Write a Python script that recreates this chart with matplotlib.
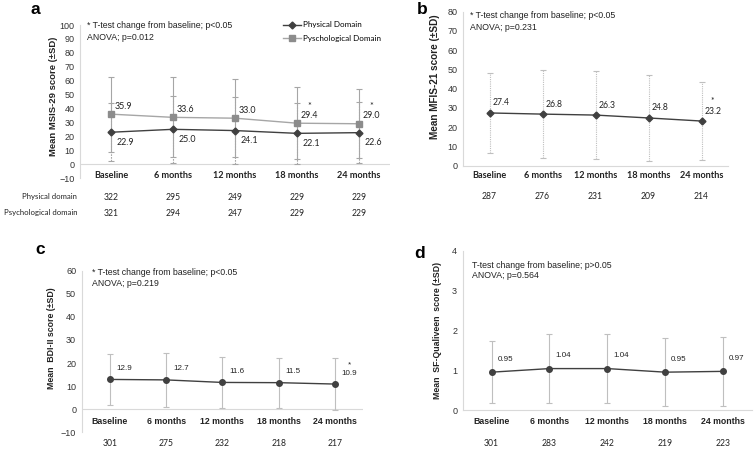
import matplotlib
matplotlib.use("Agg")
import matplotlib.pyplot as plt
import numpy as np

# ---------------- data ----------------
categories = ["Baseline", "6 months", "12 months", "18 months", "24 months"]

# panel a: MSIS-29
a_phys = [22.9, 25.0, 24.1, 22.1, 22.6]
a_phys_sd = [21.0, 24.0, 24.0, 22.0, 22.0]
a_psych = [35.9, 33.6, 33.0, 29.4, 29.0]
a_psych_sd = [27.0, 28.8, 28.0, 25.8, 24.7]
a_n_phys = [322, 295, 249, 229, 229]
a_n_psych = [321, 294, 247, 229, 229]
a_sig = [False, False, False, True, True]

# panel b: MFIS-21
b_vals = [27.4, 26.8, 26.3, 24.8, 23.2]
b_sd = [21.0, 22.7, 22.9, 22.4, 20.3]
b_n = [287, 276, 231, 209, 214]
b_sig = [False, False, False, False, True]

# panel c: BDI-II
c_vals = [12.9, 12.7, 11.6, 11.5, 10.9]
c_sd = [10.9, 11.8, 11.1, 10.9, 11.2]
c_n = [301, 275, 232, 218, 217]
c_sig = [False, False, False, False, True]

# panel d: SF-Qualiveen
d_vals = [0.95, 1.04, 1.04, 0.95, 0.97]
d_sd = [0.78, 0.86, 0.86, 0.86, 0.86]
d_n = [301, 283, 242, 219, 223]

W, H = 755, 449
fig = plt.figure(figsize=(W / 100, H / 100), dpi=100)

ARIAL = "Liberation Sans"
CAL = "Lato"
DARK = "#404040"
GRID = "#d9d9d9"


def axes_px(l, r, t, b):
    return fig.add_axes([l / W, 1 - b / H, (r - l) / W, (b - t) / H])


def style(ax, ylim, step, ylabel, lab_x, lab_y, zero_line, lab_size):
    x = np.arange(len(categories))
    ax.set_xlim(-0.5, len(categories) - 0.5)
    ax.set_ylim(*ylim)
    ax.set_yticks(np.arange(ylim[0], ylim[1] + step / 2, step))
    ax.set_xticks([])
    ax.tick_params(axis="y", length=0, pad=4, labelsize=6.5, labelcolor="#333333")
    for lbl in ax.get_yticklabels():
        lbl.set_fontfamily(ARIAL)
    for s in ["top", "right"]:
        ax.spines[s].set_visible(False)
    ax.spines["left"].set_color(GRID)
    ax.spines["left"].set_linewidth(0.8)
    if zero_line:
        ax.spines["bottom"].set_visible(False)
        ax.axhline(0, color=GRID, lw=0.8, zorder=0)
    else:
        ax.spines["bottom"].set_color(GRID)
        ax.spines["bottom"].set_linewidth(0.8)
    ax.set_ylabel(ylabel, fontsize=lab_size, fontweight="bold", family=ARIAL, color="#222222")
    ax.yaxis.set_label_coords(lab_x, lab_y)
    return x


def cat_labels(ax, dy, fam, size):
    for i, c in enumerate(categories):
        ax.annotate(c, xy=(i, 0), xycoords=("data", "axes fraction"),
                    xytext=(0, dy), textcoords="offset pixels",
                    ha="center", va="center", fontsize=size,
                    fontweight="bold", family=fam, color="#222222")


def n_row(ax, ns, dy, label=None):
    for i, n in enumerate(ns):
        ax.annotate(str(n), xy=(i, 0), xycoords=("data", "axes fraction"),
                    xytext=(0, dy), textcoords="offset pixels",
                    ha="center", va="center", fontsize=6.2, family=CAL, color="#222222")
    if label:
        ax.annotate(label, xy=(0, 0), xycoords="axes fraction",
                    xytext=(-3, dy), textcoords="offset pixels",
                    ha="right", va="center", fontsize=5.6, family=CAL, color="#222222")


def val_labels(ax, x, vals, fmt, dx, dy, fam, size, sig=None, star_dy=9):
    for i, v in zip(x, vals):
        ax.annotate(fmt.format(v), xy=(i, v), xytext=(dx, dy), textcoords="offset pixels",
                    ha="left", va="center", fontsize=size, family=fam, color="#222222")
        if sig is not None and sig[i]:
            ax.annotate("*", xy=(i, v), xytext=(dx + 6, dy + star_dy), textcoords="offset pixels",
                        ha="left", va="center", fontsize=size, family=fam, color="#222222")


def note(ax, text_lines, fx_px, fy_px_list):
    for t, fy in zip(text_lines, fy_px_list):
        fig.text(fx_px / W, 1 - fy / H, t, fontsize=6.3, family=ARIAL,
                 ha="left", va="center", color="#222222")


# ---------------- panel a ----------------
axa = axes_px(80, 390, 25, 178)
x = style(axa, (-10, 100), 10, "Mean MSIS-29 score (±SD)", -0.072, 0.536, True, 6.8)
axa.errorbar(x, a_psych, yerr=a_psych_sd, fmt="none", ecolor="#a6a6a6",
             elinewidth=0.8, capsize=2, capthick=0.8, linestyle=(0, (1.5, 1)))
eb = axa.errorbar(x, a_phys, yerr=a_phys_sd, fmt="none", ecolor="#a6a6a6",
                  elinewidth=0.8, capsize=2, capthick=0.8)
eb[2][0].set_linestyle((0, (1.5, 1)))
axa.plot(x, a_phys, color=DARK, lw=1.0, marker="D", ms=3.5, label="Physical Domain")
axa.plot(x, a_psych, color="#a6a6a6", lw=1.0, marker="s", ms=4.5,
         markerfacecolor="#8c8c8c", markeredgecolor="#8c8c8c", label="Pyschological Domain")
val_labels(axa, x, a_psych, "{:.1f}", 4, 8, CAL, 6.4, a_sig, 9)
val_labels(axa, x, a_phys, "{:.1f}", 6, -10, CAL, 6.4)
cat_labels(axa, 2, CAL, 6.6)
n_row(axa, a_n_phys, -19, "Physical domain")
n_row(axa, a_n_psych, -35, "Psychological domain")
leg = axa.legend(loc="upper left", bbox_to_anchor=(0.645, 1.045), frameon=False,
                 prop={"family": CAL, "size": 5.8}, handlelength=2.2, handletextpad=0.2,
                 labelspacing=0.8, borderaxespad=0)
note(axa, ["* T-test change from baseline; p<0.05", "ANOVA; p=0.012"], 87, [26, 38])
fig.text(35 / W, 1 - 10 / H, "a", fontsize=12.5, fontweight="bold", family=ARIAL,
         ha="center", va="center")

# ---------------- panel b ----------------
axb = axes_px(463, 728, 11.7, 165.7)
x = style(axb, (0, 80), 10, "Mean MFIS-21 score (±SD)", -0.088, 0.578, False, 7.2)
eb = axb.errorbar(x, b_vals, yerr=b_sd, fmt="none", ecolor="#bfbfbf",
                  elinewidth=0.8, capsize=2, capthick=0.8)
eb[2][0].set_linestyle((0, (1, 1)))
axb.plot(x, b_vals, color=DARK, lw=1.0, marker="D", ms=3.5)
val_labels(axb, x, b_vals, "{:.1f}", 3, 10, CAL, 6.2, b_sig, 10)
cat_labels(axb, -10, CAL, 6.6)
n_row(axb, b_n, -31)
note(axb, ["* T-test change from baseline; p<0.05", "ANOVA; p=0.231"], 470, [16, 28])
fig.text(421.7 / W, 1 - 10 / H, "b", fontsize=12.5, fontweight="bold", family=ARIAL,
         ha="center", va="center")

# ---------------- panel c ----------------
axc = axes_px(81.7, 363, 270.7, 432.3)
x = style(axc, (-10, 60), 10, "Mean  BDI-II score (±SD)", -0.09, 0.58, True, 6.3)
axc.errorbar(x, c_vals, yerr=c_sd, fmt="none", ecolor="#bfbfbf",
             elinewidth=0.8, capsize=2, capthick=0.8)
axc.plot(x, c_vals, color=DARK, lw=1.0, marker="o", ms=4)
val_labels(axc, x, c_vals, "{:.1f}", 7, 11, ARIAL, 5.8, c_sig, 8)
cat_labels(axc, 11, ARIAL, 6.3)
n_row(axc, c_n, -11)
note(axc, ["* T-test change from baseline; p<0.05", "ANOVA; p=0.219"], 92, [272.7, 283])
fig.text(40 / W, 1 - 250 / H, "c", fontsize=12.5, fontweight="bold", family=ARIAL,
         ha="center", va="center")

# ---------------- panel d ----------------
axd = axes_px(462.7, 752, 250.7, 410)
x = style(axd, (0, 4), 1, "Mean  SF-Qualiveen  score (±SD)", -0.072, 0.50, False, 6.3)
axd.errorbar(x, d_vals, yerr=d_sd, fmt="none", ecolor="#bfbfbf",
             elinewidth=0.8, capsize=2, capthick=0.8)
axd.plot(x, d_vals, color=DARK, lw=1.0, marker="o", ms=4)
val_labels(axd, x, d_vals, "{:.2f}", 6, 13, ARIAL, 5.8)
cat_labels(axd, -12, ARIAL, 6.3)
n_row(axd, d_n, -33)
note(axd, ["T-test change from baseline; p>0.05", "ANOVA; p=0.564"], 472, [265, 276])
fig.text(420 / W, 1 - 253 / H, "d", fontsize=12.5, fontweight="bold", family=ARIAL,
         ha="center", va="center")

fig.savefig("out.png", dpi=100, facecolor="white")
